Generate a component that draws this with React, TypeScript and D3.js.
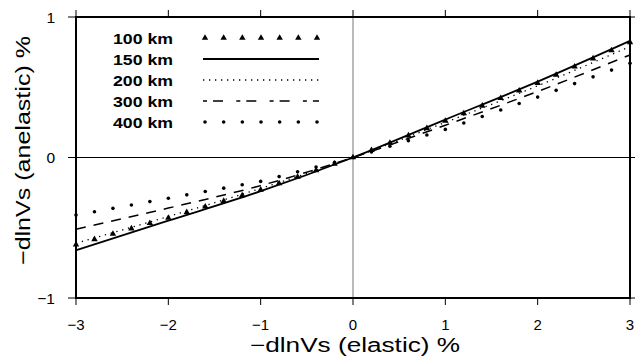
import React, { useEffect, useRef } from 'react';
import * as d3 from 'd3';

// x = -dlnVs (elastic) %, y = -dlnVs (anelastic) %
const xValues = [-3, -2, -1, 0, 1, 2, 3];
const y100 = [-0.62, -0.43, -0.23, 0, 0.26, 0.53, 0.82];
const y150 = [-0.66, -0.45, -0.24, 0, 0.27, 0.54, 0.83];
const y200 = [-0.61, -0.42, -0.22, 0, 0.25, 0.51, 0.79];
const y300 = [-0.51, -0.36, -0.2, 0, 0.23, 0.47, 0.73];
const y400 = [-0.41, -0.29, -0.17, 0, 0.2, 0.43, 0.67];
const seriesNames = ['100 km', '150 km', '200 km', '300 km', '400 km'];
const xTicks = [-3, -2, -1, 0, 1, 2, 3];
const yTicks = [-1, 0, 1];

type Style = 'tri' | 'solid' | 'dotted' | 'dashed' | 'dots';
const styles: Style[] = ['tri', 'solid', 'dotted', 'dashed', 'dots'];
const allSeries = [y100, y150, y200, y300, y400];

const W = 635;
const H = 360;
const margin = { top: 17, right: 5, bottom: 62, left: 76 };
const FONT = '"Liberation Sans", Arial, Helvetica, sans-serif';

const App: React.FC = () => {
  const svgRef = useRef<SVGSVGElement>(null);

  useEffect(() => {
    if (!svgRef.current) return;
    const svg = d3.select(svgRef.current);
    svg.selectAll('*').remove();

    const x = d3.scaleLinear().domain([-3, 3]).range([margin.left, W - margin.right]);
    const y = d3.scaleLinear().domain([-1, 1]).range([H - margin.bottom, margin.top]);

    svg.append('rect').attr('width', W).attr('height', H).attr('fill', '#fff');

    // zero lines
    svg.append('line')
      .attr('x1', x(0)).attr('x2', x(0)).attr('y1', y(1)).attr('y2', y(-1))
      .attr('stroke', '#777').attr('stroke-width', 1);
    svg.append('line')
      .attr('x1', x(-3)).attr('x2', x(3)).attr('y1', y(0)).attr('y2', y(0))
      .attr('stroke', '#000').attr('stroke-width', 1);

    const line = d3.line<number>()
      .x((_, i) => x(xValues[i]))
      .y(d => y(d))
      .curve(d3.curveMonotoneX);

    const markerXs = d3.range(-3, 3.001, 0.2);

    const plot = svg.append('g');

    styles.forEach((st, si) => {
      const vals = allSeries[si];
      const interp = d3.scaleLinear().domain(xValues).range(vals);
      if (st === 'solid' || st === 'dotted' || st === 'dashed') {
        const p = plot.append('path')
          .datum(vals)
          .attr('d', line)
          .attr('fill', 'none')
          .attr('stroke', '#000');
        if (st === 'solid') p.attr('stroke-width', 1.8);
        if (st === 'dotted') p.attr('stroke-width', 1.3).attr('stroke-dasharray', '1.3,4.7');
        if (st === 'dashed') p.attr('stroke-width', 1.5).attr('stroke-dasharray', '10,8');
      } else if (st === 'tri') {
        plot.selectAll('.tri')
          .data(markerXs)
          .enter()
          .append('path')
          .attr('class', 'tri')
          .attr('transform', d => `translate(${x(d)},${y(interp(d))})`)
          .attr('d', d3.symbol().type(d3.symbolTriangle).size(18)())
          .attr('fill', '#000');
      } else {
        plot.selectAll('.dot')
          .data(markerXs)
          .enter()
          .append('circle')
          .attr('class', 'dot')
          .attr('cx', d => x(d))
          .attr('cy', d => y(interp(d)))
          .attr('r', 1.8)
          .attr('fill', '#000');
      }
    });

    // frame
    svg.append('rect')
      .attr('x', margin.left).attr('y', margin.top)
      .attr('width', W - margin.left - margin.right)
      .attr('height', H - margin.top - margin.bottom)
      .attr('fill', 'none').attr('stroke', '#000').attr('stroke-width', 2);

    // ticks
    xTicks.forEach(t => {
      svg.append('line')
        .attr('x1', x(t)).attr('x2', x(t)).attr('y1', y(-1)).attr('y2', y(-1) + 7)
        .attr('stroke', '#000').attr('stroke-width', 1);
      svg.append('line')
        .attr('x1', x(t)).attr('x2', x(t)).attr('y1', y(1)).attr('y2', y(1) - 7)
        .attr('stroke', '#000').attr('stroke-width', 1);
      svg.append('text')
        .attr('x', x(t)).attr('y', 330)
        .attr('text-anchor', 'middle')
        .attr('font-family', FONT).attr('font-size', 15)
        .text(t < 0 ? `\u2212${-t}` : `${t}`);
    });
    yTicks.forEach(t => {
      svg.append('line')
        .attr('x1', x(-3) - 8).attr('x2', x(-3)).attr('y1', y(t)).attr('y2', y(t))
        .attr('stroke', '#000').attr('stroke-width', 1);
      svg.append('line')
        .attr('x1', x(3)).attr('x2', x(3) + 7).attr('y1', y(t)).attr('y2', y(t))
        .attr('stroke', '#000').attr('stroke-width', 1);
      svg.append('text')
        .attr('x', x(-3) - 21).attr('y', y(t) + 5.5)
        .attr('text-anchor', 'end')
        .attr('font-family', FONT).attr('font-size', 15.5)
        .text(t < 0 ? `\u2212${-t}` : `${t}`);
    });

    // axis titles
    svg.append('text')
      .attr('x', 250).attr('y', 352)
      .attr('textLength', 210).attr('lengthAdjust', 'spacingAndGlyphs')
      .attr('font-family', FONT).attr('font-size', 20)
      .text('\u2212dlnVs (elastic) %');
    svg.append('text')
      .attr('transform', `translate(30,265) rotate(-90)`)
      .attr('textLength', 229).attr('lengthAdjust', 'spacingAndGlyphs')
      .attr('font-family', FONT).attr('font-size', 21)
      .text('\u2212dlnVs (anelastic) %');

    // legend
    const legend = svg.append('g');
    const lx0 = 203;
    const lx1 = 319;
    seriesNames.forEach((name, i) => {
      const ly = 38 + i * 21;
      legend.append('text')
        .attr('x', 113).attr('y', ly + 6)
        .attr('textLength', 60).attr('lengthAdjust', 'spacingAndGlyphs')
        .attr('font-family', FONT).attr('font-size', 15.5).attr('font-weight', 'bold')
        .text(name);
      const st = styles[i];
      const pts = d3.range(7).map(k => lx0 + 2 + k * (lx1 - lx0 - 4) / 6);
      if (st === 'tri') {
        pts.forEach(px => legend.append('path')
          .attr('transform', `translate(${px},${ly})`)
          .attr('d', d3.symbol().type(d3.symbolTriangle).size(18)())
          .attr('fill', '#000'));
      } else if (st === 'dots') {
        pts.forEach(px => legend.append('circle')
          .attr('cx', px).attr('cy', ly).attr('r', 1.8).attr('fill', '#000'));
      } else {
        const l = legend.append('line')
          .attr('x1', lx0).attr('x2', lx1).attr('y1', ly).attr('y2', ly)
          .attr('stroke', '#000');
        if (st === 'solid') l.attr('stroke-width', 1.8);
        if (st === 'dotted') l.attr('stroke-width', 1.3).attr('stroke-dasharray', '1.3,4.7');
        if (st === 'dashed') l.attr('stroke-width', 1.5).attr('stroke-dasharray', '4,6,10,13.3');
      }
    });
  }, []);

  return (
    <div style={{ position: 'absolute', left: 0, top: 0 }}>
      <svg ref={svgRef} width={W} height={H} style={{ display: 'block' }}></svg>
    </div>
  );
};

export default App;
